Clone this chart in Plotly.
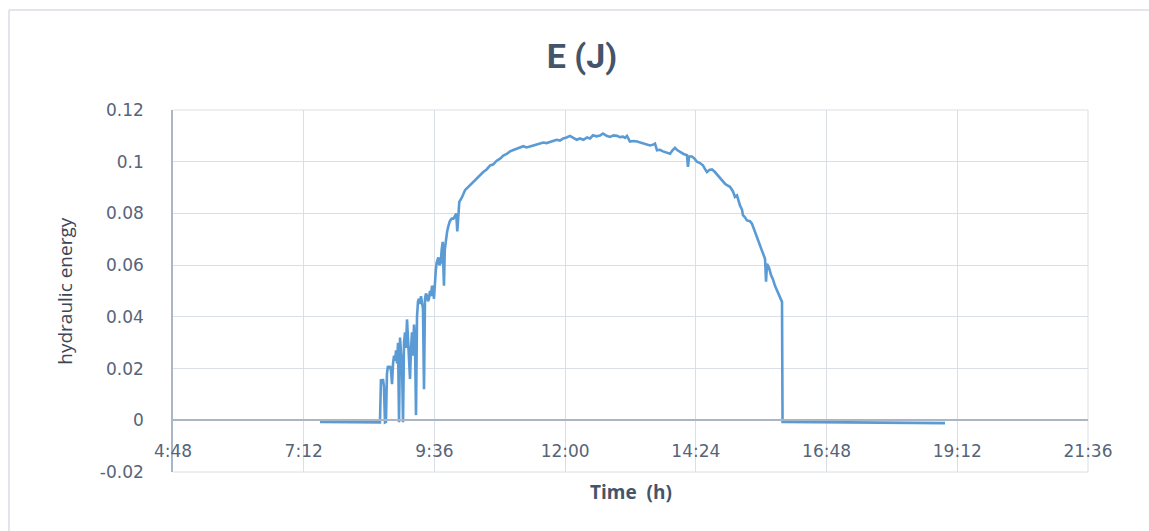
import pandas as pd
import plotly.graph_objects as go

# ---- data (time in minutes since midnight, hydraulic energy in J) ----
time_min = [
    449.9, 475.0, 500.0, 516.0, 517.1, 518.2, 519.3, 520.4, 521.5, 522.6,
    523.7, 524.8, 525.9, 527.1, 528.2, 529.3, 530.4, 531.5, 532.6, 533.7,
    534.8, 535.9, 537.0, 538.1, 539.2, 540.3, 541.4, 542.5, 543.6, 544.7,
    545.8, 546.9, 548.0, 549.1, 550.2, 551.3, 552.4, 553.5, 554.6, 555.7,
    556.8, 557.9, 559.0, 560.1, 561.2, 562.3, 563.4, 564.5, 565.6, 566.7,
    567.8, 568.9, 570.0, 571.1, 572.2, 573.3, 574.4, 575.5, 576.6, 577.5,
    578.5, 580.3, 581.5, 582.9, 584.0, 585.1, 585.8, 586.5, 587.4, 588.7,
    590.0, 591.3, 593.0, 595.0, 597.0, 598.7, 600.0, 601.2, 602.3, 603.4,
    606.0, 608.0, 609.7, 612.5, 615.2, 618.9, 622.6, 626.2, 629.8, 633.5,
    637.2, 640.9, 644.6, 648.3, 651.9, 655.6, 659.3, 663.0, 666.6, 670.3,
    673.9, 677.6, 681.3, 685.0, 688.7, 692.3, 695.9, 699.6, 703.3, 707.0,
    710.7, 714.3, 717.9, 721.6, 725.3, 729.0, 732.7, 736.4, 740.2, 744.1,
    747.4, 750.7, 754.5, 758.4, 761.7, 765.6, 769.4, 773.3, 777.1, 780.4,
    783.7, 786.0, 788.1, 791.4, 795.3, 799.2, 802.5, 805.8, 809.7, 813.5,
    817.0, 819.0, 821.2, 824.5, 827.8, 831.7, 835.6, 838.5, 841.0, 843.8,
    846.5, 850.5, 854.2, 855.3, 856.5, 859.7, 862.5, 865.2, 868.5, 871.8,
    874.0, 876.2, 878.9, 881.7, 884.5, 887.3, 890.0, 892.8, 896.1, 898.3,
    901.6, 904.9, 907.1, 909.3, 910.4, 912.6, 914.8, 915.9, 918.1, 920.3,
    923.6, 925.8, 928.0, 929.1, 931.3, 933.5, 935.8, 938.0, 940.2, 941.3,
    942.4, 944.6, 946.8, 949.0, 951.2, 953.4, 955.6, 957.8, 958.9, 959.5,
    1000.0, 1050.0, 1100.0, 1138.5,
]
energy = [
    -0.0006, -0.0007, -0.0007, -0.0008, 0.016, 0.014, 0.016, 0.013, -0.0008, -0.0006,
    0.018, 0.021, 0.020, 0.021, 0.019, 0.014, 0.022, 0.025, 0.023, 0.027,
    0.022, 0.030, -0.0008, 0.032, 0.026, 0.022, -0.0008, 0.030, 0.034, 0.028,
    0.039, 0.032, 0.024, 0.016, 0.028, 0.034, 0.025, 0.037, 0.030, 0.002,
    0.040, 0.046, 0.047, 0.045, 0.048, 0.046, 0.043, 0.012, 0.047, 0.049,
    0.048, 0.046, 0.047, 0.050, 0.048, 0.052, 0.051, 0.047, 0.055, 0.058,
    0.061, 0.063, 0.060, 0.061, 0.066, 0.069, 0.060, 0.052, 0.066, 0.071,
    0.073, 0.075, 0.077, 0.078, 0.078, 0.079, 0.080, 0.073, 0.081, 0.0845,
    0.086, 0.088, 0.089, 0.090, 0.091, 0.092, 0.0935, 0.095, 0.096, 0.097,
    0.0985, 0.099, 0.1004, 0.1012, 0.1024, 0.1030, 0.104, 0.1045, 0.105, 0.1056,
    0.106, 0.1055, 0.1058, 0.1063, 0.1067, 0.1070, 0.1074, 0.1072, 0.1076, 0.1080,
    0.1085, 0.1082, 0.109, 0.1094, 0.110, 0.1092, 0.1085, 0.1090, 0.1085, 0.1094,
    0.1090, 0.1102, 0.1098, 0.1101, 0.1109, 0.1100, 0.1096, 0.1102, 0.1100, 0.1095,
    0.1097, 0.1092, 0.1100, 0.1078, 0.1080, 0.1078, 0.1075, 0.1072, 0.1068, 0.1063,
    0.1066, 0.1070, 0.1044, 0.1046, 0.1040, 0.1036, 0.1031, 0.1045, 0.1054, 0.1044,
    0.1038, 0.1030, 0.1025, 0.0980, 0.1020, 0.1020, 0.1012, 0.1000, 0.0995, 0.0986,
    0.0972, 0.0960, 0.0968, 0.0970, 0.0962, 0.0950, 0.0940, 0.0928, 0.0915, 0.0909,
    0.0903, 0.0885, 0.0864, 0.0870, 0.0855, 0.0831, 0.0815, 0.0793, 0.0785, 0.0773,
    0.0770, 0.0760, 0.0740, 0.0729, 0.0705, 0.0688, 0.0668, 0.0645, 0.0625, 0.0536,
    0.0605, 0.0590, 0.0562, 0.0545, 0.0520, 0.0500, 0.0480, 0.0465, 0.0458, -0.0006,
    -0.0007, -0.0008, -0.0010, -0.0011,
]
x_tick_labels = ["4:48", "7:12", "9:36", "12:00", "14:24", "16:48", "19:12", "21:36"]
y_tick_values = [-0.02, 0.0, 0.02, 0.04, 0.06, 0.08, 0.10, 0.12]
y_tick_labels = ["-0.02", "0", "0.02", "0.04", "0.06", "0.08", "0.1", "0.12"]

BASE = pd.Timestamp("2000-01-01")
x_time = [BASE + pd.Timedelta(minutes=m) for m in time_min]
x_ticks = [BASE + pd.Timedelta(hours=int(s.split(":")[0]), minutes=int(s.split(":")[1]))
           for s in x_tick_labels]

TXT = "#56647a"
GRID = "#dadee6"
AXIS = "#aab5c6"
BORDER = "#d9dde5"

fig = go.Figure()
fig.add_trace(go.Scatter(
    x=x_time, y=energy, mode="lines",
    line=dict(color="#5B9BD5", width=2.6),
    showlegend=False, hoverinfo="skip",
))

y_min, y_max = y_tick_values[0], y_tick_values[-1]

edge_line = dict(color=GRID, width=1)
fig.update_layout(
    width=1149, height=531,
    paper_bgcolor="white", plot_bgcolor="white",
    margin=dict(l=173, r=61, t=110, b=59),
    title=dict(text="<b>E (J)</b>", x=0.5065, xref="container", xanchor="center",
               y=1 - 56 / 531, yref="container", yanchor="middle",
               font=dict(family="Roboto, sans-serif", size=34, color="#44546a")),
    xaxis=dict(
        range=[x_ticks[0], x_ticks[-1]],
        tickvals=x_ticks, ticktext=x_tick_labels,
        showgrid=True, gridcolor=GRID, gridwidth=1,
        showline=True, linecolor=AXIS, linewidth=1.5,
        zeroline=False, ticks="",
        anchor="free", position=(0 - y_min) / (y_max - y_min),
        ticklabelstandoff=16,
        tickfont=dict(family="DejaVu Sans, sans-serif", size=17, color=TXT),
    ),
    yaxis=dict(
        range=[y_min, y_max],
        tickvals=y_tick_values, ticktext=y_tick_labels,
        showgrid=True, gridcolor=GRID, gridwidth=1,
        showline=True, linecolor=AXIS, linewidth=1.5,
        zeroline=False, ticks="",
        ticklabelstandoff=24,
        tickfont=dict(family="DejaVu Sans, sans-serif", size=17, color=TXT),
    ),
    shapes=[
        # chart-area border (top and left edges visible in the reference)
        dict(type="line", xref="paper", yref="paper",
             x0=-164 / 915, x1=1080 / 915, y0=462 / 362, y1=462 / 362,
             line=dict(color=BORDER, width=1.5), layer="below"),
        dict(type="line", xref="paper", yref="paper",
             x0=-164 / 915, x1=-164 / 915, y0=462 / 362, y1=-70 / 362,
             line=dict(color=BORDER, width=1.5), layer="below"),
        dict(type="line", xref="paper", yref="paper", x0=0, x1=1, y0=0, y1=0,
             line=edge_line, layer="below"),
        dict(type="line", xref="paper", yref="paper", x0=0, x1=1, y0=1, y1=1,
             line=edge_line, layer="below"),
        dict(type="line", xref="paper", yref="paper", x0=1, x1=1, y0=0, y1=1,
             line=edge_line, layer="below"),
    ],
    annotations=[
        dict(text="<b>Time\u00a0\u00a0(h)</b>", xref="paper", yref="paper",
             x=0.5, y=-20 / 362, xanchor="center", yanchor="middle", showarrow=False,
             font=dict(family="Open Sans, sans-serif", size=19, color="#44546a")),
        dict(text="hydraulic energy", xref="paper", yref="paper",
             x=-108 / 915, y=0.498, textangle=-90, xanchor="center", yanchor="middle",
             showarrow=False,
             font=dict(family="Open Sans, sans-serif", size=19, color="#3c4657")),
    ],
)

fig.write_html("out.html", config={"displayModeBar": False},
               post_script="document.body.style.margin='0';")
